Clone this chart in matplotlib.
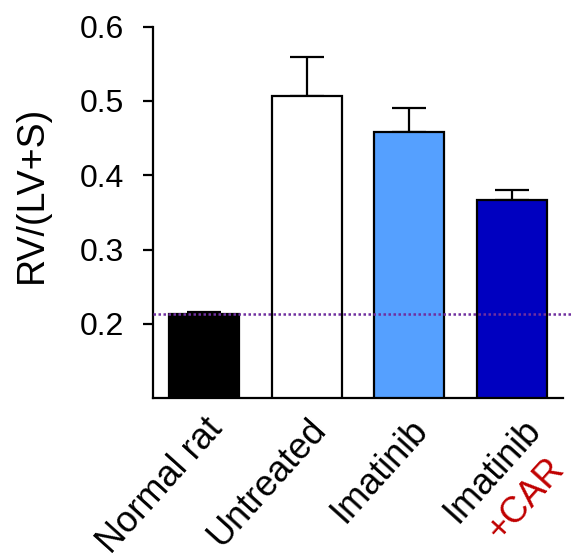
import numpy as np
import matplotlib
matplotlib.use("Agg")
import matplotlib.pyplot as plt
from matplotlib.textpath import TextPath
from matplotlib.font_manager import FontProperties

plt.rcParams['font.family'] = ['Liberation Sans', 'DejaVu Sans']

# Right ventricular hypertrophy index by treatment group
groups = ["Normal rat", "Untreated", "Imatinib", "Imatinib"]
group_suffix = "+CAR"
means = [0.213, 0.507, 0.458, 0.367]
sems = [0.003, 0.052, 0.033, 0.013]
bar_colors = ["#000000", "#FFFFFF", "#55A0FF", "#0000C0"]
y_ticks = [0.2, 0.3, 0.4, 0.5, 0.6]
reference_level = means[0]

LABEL_SIZE = 26
ANGLE = 48
PAD = 10

fig = plt.figure(figsize=(5.73, 5.56), dpi=100)
ax = fig.add_axes([0.267, 0.284, 0.7155, 0.668])

x = list(range(len(groups)))
ax.bar(x, means, width=0.68, color=bar_colors, edgecolor="black",
       linewidth=1.6, zorder=2)
ax.errorbar(x, means, yerr=[[0] * len(sems), sems], fmt="none",
            ecolor="black", elinewidth=1.6, capsize=12, capthick=1.6,
            zorder=1)

# Dotted reference at the normal level
ax.plot([-0.5, 3.6], [reference_level, reference_level], linestyle=(0, (1, 1)),
        color="#7030A0", linewidth=1.8, clip_on=False, zorder=3)

ax.set_xlim(-0.5, 3.5)
ax.set_ylim(0.1, 0.6)
ax.set_yticks(y_ticks)
ax.set_yticklabels([f"{v:.1f}" for v in y_ticks], fontsize=23)
ax.set_ylabel("RV/(LV+S)", fontsize=27)
ax.yaxis.set_label_coords(-0.252, 0.548)

ax.set_xticks(x)
ax.set_xticklabels(groups[:-1] + [""], fontsize=LABEL_SIZE, rotation=ANGLE,
                   ha="right", rotation_mode="anchor")
ax.tick_params(axis="x", length=0, pad=PAD)
ax.tick_params(axis="y", length=7, width=1.6, pad=14)

# Two-line label for the last group, second line in red
th = np.radians(ANGLE)
along = np.array([np.cos(th), np.sin(th)])
perp = np.array([np.sin(th), -np.cos(th)])
prop = FontProperties(family="Liberation Sans")
first_len = TextPath((0, 0), groups[-1], size=LABEL_SIZE, prop=prop).get_extents().width
first_mid = np.array([15.5, -PAD - 10.0]) - along * first_len / 2
second_mid = first_mid + perp * 1.12 * LABEL_SIZE + along * 3 + np.array([0.0, -3.0])
for text, pos, color in ((groups[-1], first_mid, "black"),
                         (group_suffix, second_mid, "#C00000")):
    ax.annotate(text, xy=(x[-1], 0), xycoords=("data", "axes fraction"),
                xytext=tuple(pos), textcoords="offset points",
                fontsize=LABEL_SIZE, color=color, rotation=ANGLE, ha="center",
                va="center", rotation_mode="anchor", annotation_clip=False)

for side in ("top", "right"):
    ax.spines[side].set_visible(False)
for side in ("left", "bottom"):
    ax.spines[side].set_linewidth(1.6)

fig.savefig("out.png", dpi=100)
